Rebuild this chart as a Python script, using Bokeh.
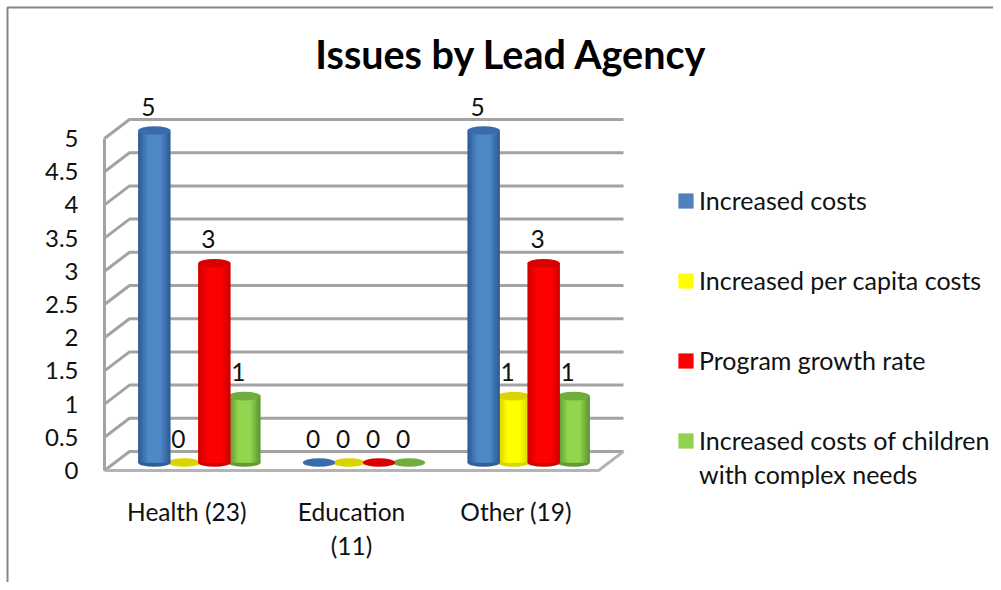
from bokeh.plotting import figure
from bokeh.embed import file_html
from bokeh.resources import INLINE
from bokeh.models import Range1d, FixedTicker, Label, Legend, LegendItem
from bokeh.core.properties import value

# ---- data ----
categories = ["Health (23)", "Education\n(11)", "Other (19)"]
increased_costs = [5, 0, 5]
per_capita_costs = [0, 0, 1]
program_growth = [3, 0, 3]
complex_needs = [1, 0, 1]
series_names = ["Increased costs", "Increased per capita costs", "Program growth rate",
                "Increased costs of children\nwith complex needs"]
y_ticks = [0, 0.5, 1, 1.5, 2, 2.5, 3, 3.5, 4, 4.5, 5]
y_tick_labels = ["0", "0.5", "1", "1.5", "2", "2.5", "3", "3.5", "4", "4.5", "5"]
title_text = "Issues by Lead Agency"

# ---- layout (pixels) ----
FIG_W, FIG_H = 993, 582
X0, Y0 = 104, 470           # front-left corner of the floor
CAT_PX, UNIT_PX = 164.67, 66.4
DEPTH_X, DEPTH_Y = 25 / CAT_PX, 19 / UNIT_PX
BAR_X, BAR_Y = 12.5 / CAT_PX, 8 / UNIT_PX
BAR_W, BAR_STEP = 32.5 / CAT_PX, 30 / CAT_PX
CAP_H = 8.6 / UNIT_PX
FONT = "Lato"
TEXT = "#111111"
GRID = "#a3a3a3"

p = figure(width=FIG_W, height=FIG_H, output_backend="svg", toolbar_location=None,
           x_range=Range1d(-X0 / CAT_PX, (FIG_W - X0) / CAT_PX),
           y_range=Range1d((Y0 - FIG_H) / UNIT_PX, Y0 / UNIT_PX),
           min_border=0, min_border_left=0, min_border_right=0, min_border_top=0, min_border_bottom=0,
           background_fill_color="white", border_fill_color="white")
p.outline_line_color = None
p.grid.visible = False

# page border (left and top edges)
bx, by = (7 - X0) / CAT_PX, (Y0 - 7) / UNIT_PX
p.line([bx, bx, (FIG_W - X0) / CAT_PX], [(Y0 - FIG_H) / UNIT_PX, by, by], line_color="#868686", line_width=2)

# walls and floor
n_cat = len(categories)
xs, ys = [], []
for v in y_ticks:
    xs.append([0, DEPTH_X, n_cat + DEPTH_X])
    ys.append([v, v + DEPTH_Y, v + DEPTH_Y])
p.multi_line(xs, ys, line_color=GRID, line_width=3)
p.multi_line([[0, n_cat, n_cat + DEPTH_X]], [[0, 0, DEPTH_Y]], line_color="#b4b4b4", line_width=3)

# axes
ya = p.yaxis[0]
ya.fixed_location = 0
ya.bounds = (0, max(y_ticks))
ya.ticker = FixedTicker(ticks=y_ticks)
ya.major_label_overrides = dict(zip(y_ticks, y_tick_labels))
ya.major_tick_line_color = None
ya.minor_tick_line_color = None
ya.axis_line_color = GRID
ya.axis_line_width = 3
ya.major_label_standoff = 20
ya.major_label_text_font = FONT
ya.major_label_text_font_size = "24px"
ya.major_label_text_color = TEXT

cat_pos = [i + 0.5 for i in range(n_cat)]
xa = p.xaxis[0]
xa.fixed_location = 0
xa.bounds = (0, n_cat)
xa.ticker = FixedTicker(ticks=cat_pos)
xa.major_label_overrides = dict(zip(cat_pos, categories))
xa.major_tick_line_color = None
xa.minor_tick_line_color = None
xa.axis_line_color = None
xa.major_label_standoff = 20
xa.major_label_text_font = FONT
xa.major_label_text_font_size = "24.5px"
xa.major_label_text_color = TEXT


def mix(a, b, t):
    ca = [int(a[i:i + 2], 16) for i in (1, 3, 5)]
    cb = [int(b[i:i + 2], 16) for i in (1, 3, 5)]
    return "#%02x%02x%02x" % tuple(round(x + (y - x) * t) for x, y in zip(ca, cb))


# (values, slot, edge colour, centre colour, cap colour)
series = [
    (per_capita_costs, 1, "#d6d600", "#ffff00", "#dcd400"),
    (complex_needs, 3, "#5f9a32", "#92d650", "#6fae3c"),
    (increased_costs, 0, "#2f5f98", "#4f88c8", "#3a6cab"),
    (program_growth, 2, "#d40000", "#ff0000", "#d80000"),
]
LAYERS = 7
for vals, slot, edge, centre, cap in series:
    cx = [i + 0.5 + BAR_X + (slot - 1.5) * BAR_STEP for i in range(n_cat)]
    base = [BAR_Y] * n_cat
    p.ellipse(cx, base, width=BAR_W, height=CAP_H, fill_color=[edge if v else cap for v in vals], line_color=None)
    left, right, top, bottom, colors = [], [], [], [], []
    for c, v in zip(cx, vals):
        if not v:
            continue
        for s in range(LAYERS):
            half = BAR_W / 2 * (1 - s / LAYERS)
            left.append(c - half)
            right.append(c + half)
            bottom.append(BAR_Y)
            top.append(v + BAR_Y)
            colors.append(mix(edge, centre, min(1, s / (LAYERS - 3))))
    p.quad(left=left, right=right, top=top, bottom=bottom, fill_color=colors, line_color=None)
    nz = [(c, v) for c, v in zip(cx, vals) if v]
    if nz:
        p.ellipse([a for a, _ in nz], [v + BAR_Y for _, v in nz], width=BAR_W, height=CAP_H,
                  fill_color=cap, line_color=None)
    p.text(cx, [v + BAR_Y for v in vals], text=[str(v) for v in vals], text_font=value(FONT),
           text_font_size="24.5px", text_color=TEXT, text_align="center", text_baseline="middle",
           x_offset=-6, y_offset=-24)

# legend: the last entry wraps, with its swatch beside the first line
legend_colors = ["#4f81bd", "#ffff00", "#ff0000", "#92d050"]
legend_style = dict(orientation="vertical", background_fill_alpha=0, border_line_color=None, padding=0, margin=0,
                    glyph_width=19, glyph_height=19, label_standoff=4, label_text_font=FONT,
                    label_text_font_size="25px", label_text_color=TEXT, label_height=30)
items = []
for name, col in zip(series_names, legend_colors):
    r = p.quad(left=[0], right=[0], top=[0], bottom=[0], fill_color=col, line_color=None)
    items.append(LegendItem(label=name.split("\n")[0], renderers=[r]))
p.add_layout(Legend(items=items, location=(676, 127), spacing=50, **legend_style), "center")
blank = p.quad(left=[0], right=[0], top=[0], bottom=[0], fill_alpha=0, line_color=None)
p.add_layout(Legend(items=[LegendItem(label=series_names[-1].split("\n")[1], renderers=[blank])],
                    location=(676, 93), spacing=0, **legend_style), "center")

# title
p.add_layout(Label(x=511, y=FIG_H - 53, x_units="screen", y_units="screen", text=title_text,
                   text_font=FONT, text_font_style="bold", text_font_size="39.5px", text_color="#000000",
                   text_align="center", text_baseline="middle"))

open("out.html", "w").write(file_html(p, INLINE))
